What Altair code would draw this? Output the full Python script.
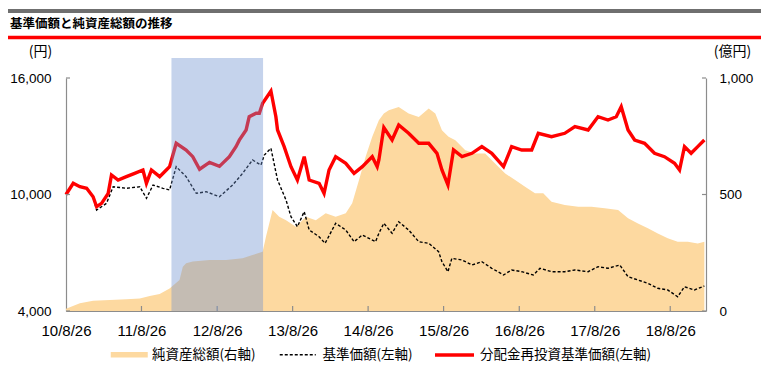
import altair as alt
import pandas as pd

TITLE = "基準価額と純資産総額の推移"
S_AUM = "純資産総額(右軸)"
S_NAV = "基準価額(左軸)"
S_DIST = "分配金再投資基準価額(左軸)"

# 分配金再投資基準価額 (円)
dist_dates = ["2010-08-26", "2010-09-30", "2010-11-01", "2010-12-04", "2011-01-04", "2011-01-21",
              "2011-02-14", "2011-03-18", "2011-04-03", "2011-05-05", "2011-06-14", "2011-07-24",
              "2011-09-02", "2011-09-19", "2011-10-13", "2011-11-22", "2011-12-24", "2012-01-09",
              "2012-02-10", "2012-03-29", "2012-04-30", "2012-06-02", "2012-07-20", "2012-09-06",
              "2012-10-24", "2012-11-25", "2012-12-11", "2013-01-13", "2013-01-28", "2013-03-02",
              "2013-03-18", "2013-04-03", "2013-05-13", "2013-06-06", "2013-06-14", "2013-07-16",
              "2013-08-18", "2013-09-18", "2013-10-21", "2013-11-14", "2014-01-01", "2014-01-25",
              "2014-02-18", "2014-03-22", "2014-05-10", "2014-06-19", "2014-07-29", "2014-09-15",
              "2014-10-09", "2014-10-17", "2014-11-10", "2014-11-18", "2014-12-20", "2015-01-21",
              "2015-03-10", "2015-04-28", "2015-06-15", "2015-07-25", "2015-08-18", "2015-09-16",
              "2015-10-13", "2015-11-23", "2016-01-10", "2016-02-27", "2016-04-15", "2016-06-11",
              "2016-07-20", "2016-09-07", "2016-10-25", "2016-11-26", "2017-01-29", "2017-04-03",
              "2017-05-22", "2017-07-25", "2017-09-11", "2017-10-29", "2017-12-08", "2018-01-01",
              "2018-02-03", "2018-03-07", "2018-04-24", "2018-06-11", "2018-07-29", "2018-09-16",
              "2018-10-10", "2018-11-03", "2018-12-05", "2019-01-06", "2019-02-07"]
dist_vals = [10000, 10577, 10400, 10318, 9886, 9371,
             9546, 10061, 11004, 10747, 10918, 11090,
             11262, 10577, 11262, 10918, 11262, 11433,
             12637, 12292, 11948, 11300, 11650, 11450,
             11948, 12464, 12800, 13322, 14006, 14182,
             14182, 14697, 15330, 14006, 13322, 12464,
             11433, 10747, 11948, 10747, 10577, 10061,
             11262, 11948, 11606, 11090, 11433, 11948,
             11433, 11777, 13450, 13322, 12807, 13579,
             13152, 12637, 12637, 12122, 11262, 10489,
             12292, 11948, 12122, 12464, 12122, 11433,
             12464, 12292, 12292, 13152, 12976, 13152,
             13494, 13322, 14006, 13837, 14006, 14521,
             13322, 12807, 12637, 12122, 11948, 11606,
             11262, 12464, 12122, 12464, 12807]

# 基準価額 (円)
nav_dates = ["2010-08-26", "2010-09-30", "2010-11-01", "2010-12-04", "2011-01-04", "2011-01-21",
             "2011-03-10", "2011-04-11", "2011-06-14", "2011-08-18", "2011-09-19", "2011-10-21",
             "2011-12-08", "2012-01-09", "2012-02-10", "2012-03-29", "2012-05-17", "2012-07-04",
             "2012-09-06", "2012-11-09", "2012-12-27", "2013-02-13", "2013-03-26", "2013-04-11",
             "2013-05-13", "2013-06-14", "2013-07-25", "2013-08-18", "2013-09-18", "2013-10-21",
             "2013-11-14", "2014-01-01", "2014-01-30", "2014-03-22", "2014-05-10", "2014-06-19",
             "2014-07-29", "2014-10-01", "2014-10-17", "2014-11-10", "2014-12-20", "2015-01-21",
             "2015-03-10", "2015-04-28", "2015-06-15", "2015-08-02", "2015-08-18", "2015-09-16",
             "2015-10-05", "2015-11-23", "2016-01-10", "2016-02-27", "2016-04-15", "2016-06-11",
             "2016-07-20", "2016-09-07", "2016-11-02", "2016-12-04", "2017-01-29", "2017-04-03",
             "2017-05-22", "2017-07-25", "2017-09-11", "2017-10-29", "2017-12-25", "2018-02-03",
             "2018-03-23", "2018-05-10", "2018-06-27", "2018-08-14", "2018-10-01", "2018-11-03",
             "2018-12-21", "2019-02-07"]
nav_vals = [10000, 10550, 10400, 10300, 9860, 9200,
            9546, 10400, 10318, 10400, 9804, 10489,
            10318, 10232, 11433, 10918, 10061, 10146,
            9886, 10489, 11090, 11777, 11519, 12034,
            12379, 10747, 9717, 8859, 8344, 9117,
            8172, 7827, 7487, 8517, 8172, 7569,
            7914, 7569, 8001, 8517, 8001, 8599,
            8172, 7569, 7487, 7054, 6539, 6024,
            6714, 6627, 6369, 6539, 6199, 5854,
            6112, 6024, 5854, 6199, 6024, 6024,
            6112, 6024, 6282, 6199, 6369, 5767,
            5597, 5427, 5169, 5082, 4736, 5251,
            5082, 5288]

# 純資産総額 (億円)
aum_dates = ["2010-08-26", "2010-11-01", "2011-01-04", "2011-03-26", "2011-06-14", "2011-08-18",
             "2011-10-05", "2011-11-22", "2012-01-09", "2012-02-26", "2012-03-13", "2012-03-29",
             "2012-04-30", "2012-07-20", "2012-10-08", "2012-12-27", "2013-02-13", "2013-04-03",
             "2013-04-19", "2013-05-21", "2013-06-22", "2013-07-25", "2013-09-11", "2013-10-29",
             "2013-12-16", "2014-02-02", "2014-03-22", "2014-05-10", "2014-06-10", "2014-07-13",
             "2014-08-14", "2014-09-15", "2014-10-17", "2014-11-10", "2014-12-04", "2015-01-21",
             "2015-03-10", "2015-04-28", "2015-06-15", "2015-07-17", "2015-08-18", "2015-09-19",
             "2015-10-22", "2015-12-09", "2016-01-26", "2016-03-14", "2016-05-01", "2016-06-19",
             "2016-08-06", "2016-09-23", "2016-11-10", "2016-12-20", "2017-01-29", "2017-04-03",
             "2017-06-07", "2017-08-10", "2017-10-13", "2017-12-17", "2018-02-03", "2018-03-23",
             "2018-05-10", "2018-06-27", "2018-08-14", "2018-10-01", "2018-11-19", "2019-01-06",
             "2019-02-07"]
aum_vals = [10, 33, 44, 47, 50, 54,
            64, 73, 97, 133, 190, 205,
            212, 219, 219, 226, 240, 254,
            319, 433, 405, 390, 362, 405,
            390, 419, 405, 419, 462, 562,
            662, 748, 819, 848, 862, 876,
            848, 833, 869, 848, 776, 748,
            733, 690, 676, 676, 633, 590,
            562, 533, 505, 505, 469, 455,
            447, 447, 441, 433, 398, 376,
            355, 333, 312, 297, 297, 290,
            297]

x_tick_years = [2010, 2011, 2012, 2013, 2014, 2015, 2016, 2017, 2018]
inner_tick_dates = ["2011-08-26", "2012-08-26", "2013-08-26", "2014-08-26", "2015-08-26",
                    "2016-08-26", "2017-08-26", "2018-08-26"]
left_ticks = [4000, 10000, 16000]
right_ticks = [0, 500, 1000]
highlight_start = ["2012-01-18"]
highlight_end = ["2013-04-05"]

W, H = 640, 233
AREA = "#fdd9a0"
RED = "#ff0000"
AXIS_GRAY = "#8c8c8c"
NUM_FONT = "Liberation Sans Narrow, Arial Narrow, Liberation Sans, sans-serif"
JP_FONT = "Noto Sans CJK JP"

df_dist = pd.DataFrame({"d": dist_dates, "v": dist_vals, "s": S_DIST})
df_nav = pd.DataFrame({"d": nav_dates, "v": nav_vals, "s": S_NAV})
df_aum = pd.DataFrame({"d": aum_dates, "v": aum_vals, "s": S_AUM})
df_xt = pd.DataFrame({"d": inner_tick_dates})
df_lt = pd.DataFrame({"v": left_ticks})
df_rt = pd.DataFrame({"v": right_ticks})
df_hl = pd.DataFrame({"a": highlight_start, "b": highlight_end})
df_one = pd.DataFrame({"t": [TITLE]})

x_scale = alt.Scale(type="utc", domain=[alt.DateTime(year=2010, month=8, date=26, utc=True),
                                        alt.DateTime(year=2019, month=2, date=15, utc=True)])
x_axis = alt.Axis(title=None, values=[alt.DateTime(year=y, month=8, date=26, utc=True) for y in x_tick_years],
                  format="%y/%-m/%-d", grid=False, ticks=False, domainColor=AXIS_GRAY, domainWidth=1.2,
                  labelFont=NUM_FONT, labelFontSize=15, labelColor="black", labelPadding=12,
                  labelFlush=False, labelOverlap=False)
X = alt.X("d:T", scale=x_scale, axis=x_axis)

left_scale = alt.Scale(domain=[4000, 16000], nice=False, zero=False)
left_axis = alt.Axis(title="(円)", titleAngle=0, titleX=-26, titleY=-27, titleAlign="center",
                     titleBaseline="middle", titleFont=JP_FONT, titleFontSize=14, titleFontWeight="normal",
                     values=left_ticks, format=",.0f", grid=False, ticks=False, domainColor=AXIS_GRAY,
                     domainWidth=1.2, labelFont=NUM_FONT, labelFontSize=13.5, labelColor="black",
                     labelPadding=15, orient="left")
right_scale = alt.Scale(domain=[0, 1000], nice=False)
right_axis = alt.Axis(title="(億円)", titleAngle=0, titleX=26, titleY=-27, titleAlign="center",
                      titleBaseline="middle", titleFont=JP_FONT, titleFontSize=14, titleFontWeight="normal",
                      values=right_ticks, format=",.0f", grid=False, ticks=False, domainColor=AXIS_GRAY,
                      domainWidth=1.2, labelFont=NUM_FONT, labelFontSize=13.5, labelColor="black",
                      labelPadding=13, orient="right")


def legend(x, path, off, stroke_w=0, dash=None):
    kw = dict(title=None, orient="none", legendX=x, legendY=270, symbolType=path, symbolSize=100,
              labelOffset=off, labelFont=JP_FONT, labelFontSize=13.5, labelColor="black", padding=0,
              labelLimit=400, symbolOpacity=1)
    if stroke_w:
        kw["symbolStrokeWidth"] = stroke_w
    if dash:
        kw["symbolDash"] = dash
    return alt.Legend(**kw)


area = alt.Chart(df_aum).mark_area(opacity=1).encode(
    x=X,
    y=alt.Y("v:Q", scale=right_scale, axis=right_axis),
    color=alt.Color("s:N", scale=alt.Scale(domain=[S_AUM], range=[AREA]),
                    legend=legend(56.5, "M-3.7,-0.55H3.7V0.55H-3.7Z", 16)),
)
rticks = alt.Chart(df_rt).mark_rule(color=AXIS_GRAY, strokeWidth=1.2).encode(
    y=alt.Y("v:Q", scale=right_scale, axis=right_axis),
    x=alt.value(W), x2=alt.value(W - 4),
)
right_group = alt.layer(area, rticks)

nav_line = alt.Chart(df_nav).mark_line(strokeWidth=1.4, strokeDash=[3, 2]).encode(
    x=X,
    y=alt.Y("v:Q", scale=left_scale, axis=left_axis),
    color=alt.Color("s:N", scale=alt.Scale(domain=[S_NAV], range=["#000000"]),
                    legend=legend(225, "M-3.6,0H3.6", 18, 1.5, [3, 2])),
)
dist_line = alt.Chart(df_dist).mark_line(strokeWidth=3.4).encode(
    x=X,
    y=alt.Y("v:Q", scale=left_scale, axis=left_axis),
    color=alt.Color("s:N", scale=alt.Scale(domain=[S_DIST], range=[RED]),
                    legend=legend(381.5, "M-3.9,0H3.9", 18.5, 3.5)),
)
lticks = alt.Chart(df_lt).mark_rule(color=AXIS_GRAY, strokeWidth=1.2).encode(
    y=alt.Y("v:Q", scale=left_scale, axis=left_axis),
    x=alt.value(0), x2=alt.value(4),
)
left_group = alt.layer(nav_line, dist_line, lticks).resolve_scale(color="independent")

xticks = alt.Chart(df_xt).mark_rule(color=AXIS_GRAY, strokeWidth=1.2).encode(
    x=X, y=alt.value(H), y2=alt.value(H - 5),
)
hl = alt.Chart(df_hl).mark_rect(color="#6e91cf", opacity=0.4).encode(
    x=alt.X("a:T", scale=x_scale, axis=x_axis), x2="b:T",
    y=alt.value(-20), y2=alt.value(H),
)
gray_bar = alt.Chart(df_one).mark_rule(color="#6f6f6f", strokeWidth=4).encode(
    x=alt.value(-58), x2=alt.value(696), y=alt.value(-67))
red_bar = alt.Chart(df_one).mark_rule(color=RED, strokeWidth=3.5).encode(
    x=alt.value(-58), x2=alt.value(696), y=alt.value(-40.5))
title = alt.Chart(df_one).mark_text(align="left", baseline="middle", font=JP_FONT, fontSize=12.5,
                                     fontWeight="bold", color="black").encode(
    text="t:N", x=alt.value(-56), y=alt.value(-54))

chart = alt.layer(right_group, left_group, xticks, hl, gray_bar, red_bar, title).resolve_scale(
    y="independent", color="independent"
).properties(
    width=W, height=H,
    autosize=alt.AutoSizeParams(type="none"),
    padding={"left": 58, "top": 70, "right": 55, "bottom": 56},
    background="white",
).configure_view(stroke=None)

chart.save("out.html", embed_options={"renderer": "svg", "actions": False})
